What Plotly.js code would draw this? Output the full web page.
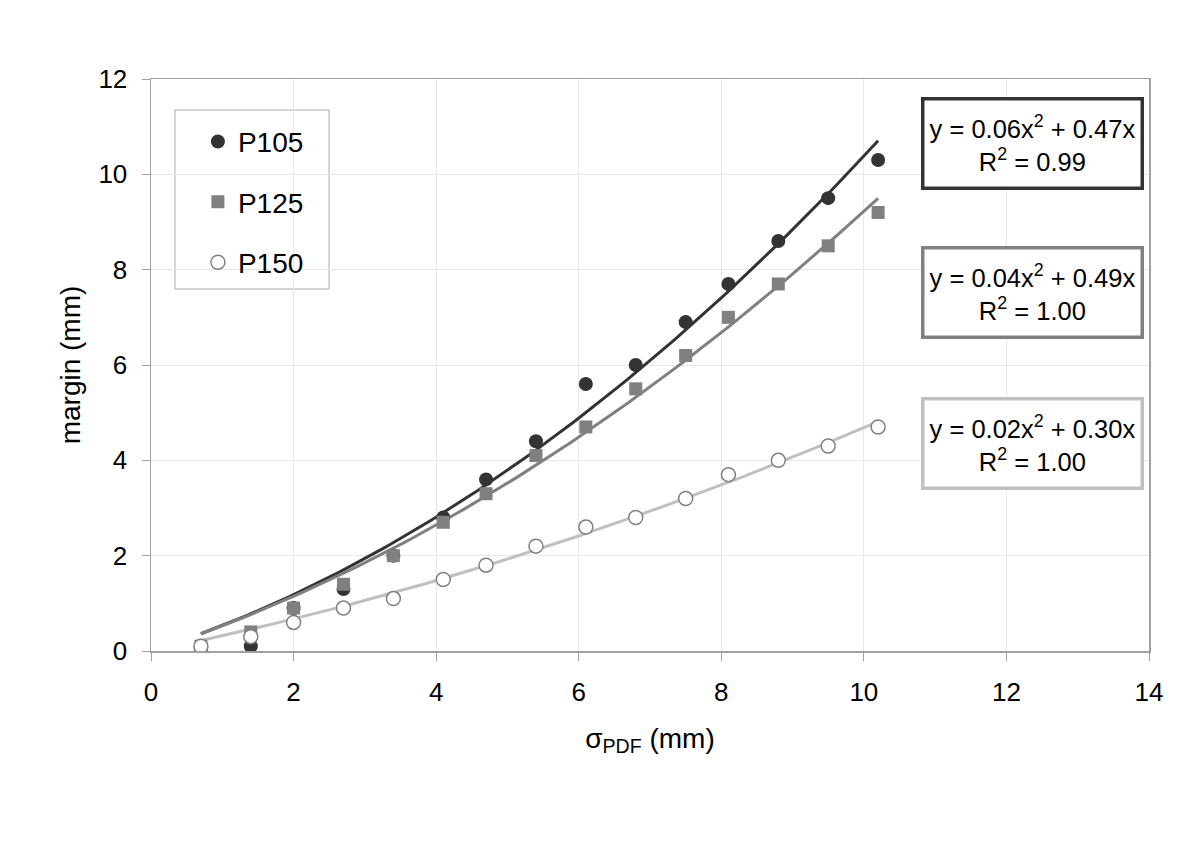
<!DOCTYPE html>
<html>
<head>
<meta charset="utf-8">
<script src="https://cdn.plot.ly/plotly-3.0.1.min.js"></script>
<style>html,body{margin:0;padding:0;background:#fff;}#chart{width:1200px;height:848px;}</style>
</head>
<body>
<div id="chart"></div>
<script>
// ---- data ----
const seriesNames = ["P105", "P125", "P150"];
const xP105 = [0.7, 1.4, 2.0, 2.7, 3.4, 4.1, 4.7, 5.4, 6.1, 6.8, 7.5, 8.1, 8.8, 9.5, 10.2];
const yP105 = [0.0, 0.1, 0.9, 1.3, 2.0, 2.8, 3.6, 4.4, 5.6, 6.0, 6.9, 7.7, 8.6, 9.5, 10.3];
const xP125 = [0.7, 1.4, 2.0, 2.7, 3.4, 4.1, 4.7, 5.4, 6.1, 6.8, 7.5, 8.1, 8.8, 9.5, 10.2];
const yP125 = [0.1, 0.4, 0.9, 1.4, 2.0, 2.7, 3.3, 4.1, 4.7, 5.5, 6.2, 7.0, 7.7, 8.5, 9.2];
const xP150 = [0.7, 1.4, 2.0, 2.7, 3.4, 4.1, 4.7, 5.4, 6.1, 6.8, 7.5, 8.1, 8.8, 9.5, 10.2];
const yP150 = [0.1, 0.3, 0.6, 0.9, 1.1, 1.5, 1.8, 2.2, 2.6, 2.8, 3.2, 3.7, 4.0, 4.3, 4.7];
const eqLabels = [
  "y = 0.06x<sup>2</sup> + 0.47x<br>R<sup>2</sup> = 0.99",
  "y = 0.04x<sup>2</sup> + 0.49x<br>R<sup>2</sup> = 1.00",
  "y = 0.02x<sup>2</sup> + 0.30x<br>R<sup>2</sup> = 1.00"
];
const xTicks = [0, 2, 4, 6, 8, 10, 12, 14];
const yTicks = [0, 2, 4, 6, 8, 10, 12];

// ---- styles ----
const markerColors = ["#333333", "#808080", "#ffffff"];
const markerLines = ["#333333", "#808080", "#808080"];
const markerSymbols = ["circle", "square", "circle"];
const lineColors = ["#333333", "#808080", "#c0c0c0"];
const FONT = "Liberation Sans, Arial, sans-serif";

// least-squares fit y = a x^2 + b x (through origin), as a spreadsheet trendline does
function fitQuad(xs, ys) {
  let s4 = 0, s3 = 0, s2 = 0, s2y = 0, s1y = 0;
  for (let i = 0; i < xs.length; i++) {
    const x = xs[i], y = ys[i];
    s4 += x ** 4; s3 += x ** 3; s2 += x ** 2; s2y += x * x * y; s1y += x * y;
  }
  const det = s4 * s2 - s3 * s3;
  return [(s2y * s2 - s3 * s1y) / det, (s4 * s1y - s3 * s2y) / det];
}

const xs = [xP105, xP125, xP150];
const ys = [yP105, yP125, yP150];
const traces = [];
for (let k = 0; k < 3; k++) {
  const [a, b] = fitQuad(xs[k], ys[k]);
  const x0 = Math.min(...xs[k]), x1 = Math.max(...xs[k]);
  const lx = [], ly = [];
  for (let i = 0; i <= 100; i++) { const x = x0 + (x1 - x0) * i / 100; lx.push(x); ly.push(a * x * x + b * x); }
  traces.push({x: lx, y: ly, mode: "lines", line: {color: lineColors[k], width: 3}, showlegend: false, hoverinfo: "skip"});
}
for (let k = 0; k < 3; k++) {
  traces.push({
    x: xs[k], y: ys[k], mode: "markers", name: seriesNames[k], legendgroup: seriesNames[k],
    marker: {symbol: markerSymbols[k], size: k === 1 ? 13 : 14, color: markerColors[k], line: {color: markerLines[k], width: k === 2 ? 1.5 : 0}}
  });
}

const boxY = [0.8864, 0.6267, 0.3619];
const annotations = eqLabels.map((t, k) => ({
  text: t, xref: "paper", yref: "paper", x: 0.8833, y: boxY[k], xanchor: "center", yanchor: "middle",
  showarrow: false, font: {family: FONT, size: 25.5, color: "#000"}, bgcolor: "#fff",
  bordercolor: lineColors[k], borderwidth: 3.5, borderpad: 4, width: 208, height: 78, align: "center"
}));

const layout = {
  width: 1200, height: 848,
  margin: {l: 151, r: 51, t: 79, b: 197},
  paper_bgcolor: "#fff", plot_bgcolor: "#fff",
  font: {family: FONT, color: "#000"},
  showlegend: true,
  legend: {x: 0.047, y: 0.934, xanchor: "left", yanchor: "top", bgcolor: "rgba(0,0,0,0)", borderwidth: 0,
    font: {family: FONT, size: 28}, traceorder: "grouped", tracegroupgap: 21},
  xaxis: {range: [0, 14], tickvals: xTicks, ticktext: xTicks.map(String), showgrid: true, gridcolor: "#e8e8e8",
    zeroline: false, showline: true, linecolor: "#a0a0a0", linewidth: 1.5, mirror: true,
    ticks: "outside", ticklen: 8, tickcolor: "#a0a0a0", tickfont: {size: 26, family: FONT}, ticklabelstandoff: 9,
    title: {text: "σ<sub>PDF</sub> (mm)", font: {size: 28, family: FONT}, standoff: 22}},
  yaxis: {range: [0, 12], tickvals: yTicks, ticktext: yTicks.map(String), showgrid: true, gridcolor: "#e8e8e8",
    zeroline: false, showline: true, linecolor: "#a0a0a0", linewidth: 1.5, mirror: true,
    ticks: "outside", ticklen: 8, tickcolor: "#a0a0a0", tickfont: {size: 26, family: FONT}, ticklabelstandoff: 9,
    title: {text: "margin (mm)", font: {size: 28, family: FONT}, standoff: 9}},
  shapes: [{type: "rect", xref: "paper", yref: "paper", x0: 0.024, x1: 0.1784, y0: 0.6329, y1: 0.9458,
    line: {color: "#aaaaaa", width: 1}, fillcolor: "#fff", layer: "below"}],
  annotations: annotations
};

Plotly.newPlot("chart", traces, layout, {displayModeBar: false, staticPlot: true});
</script>
</body>
</html>
